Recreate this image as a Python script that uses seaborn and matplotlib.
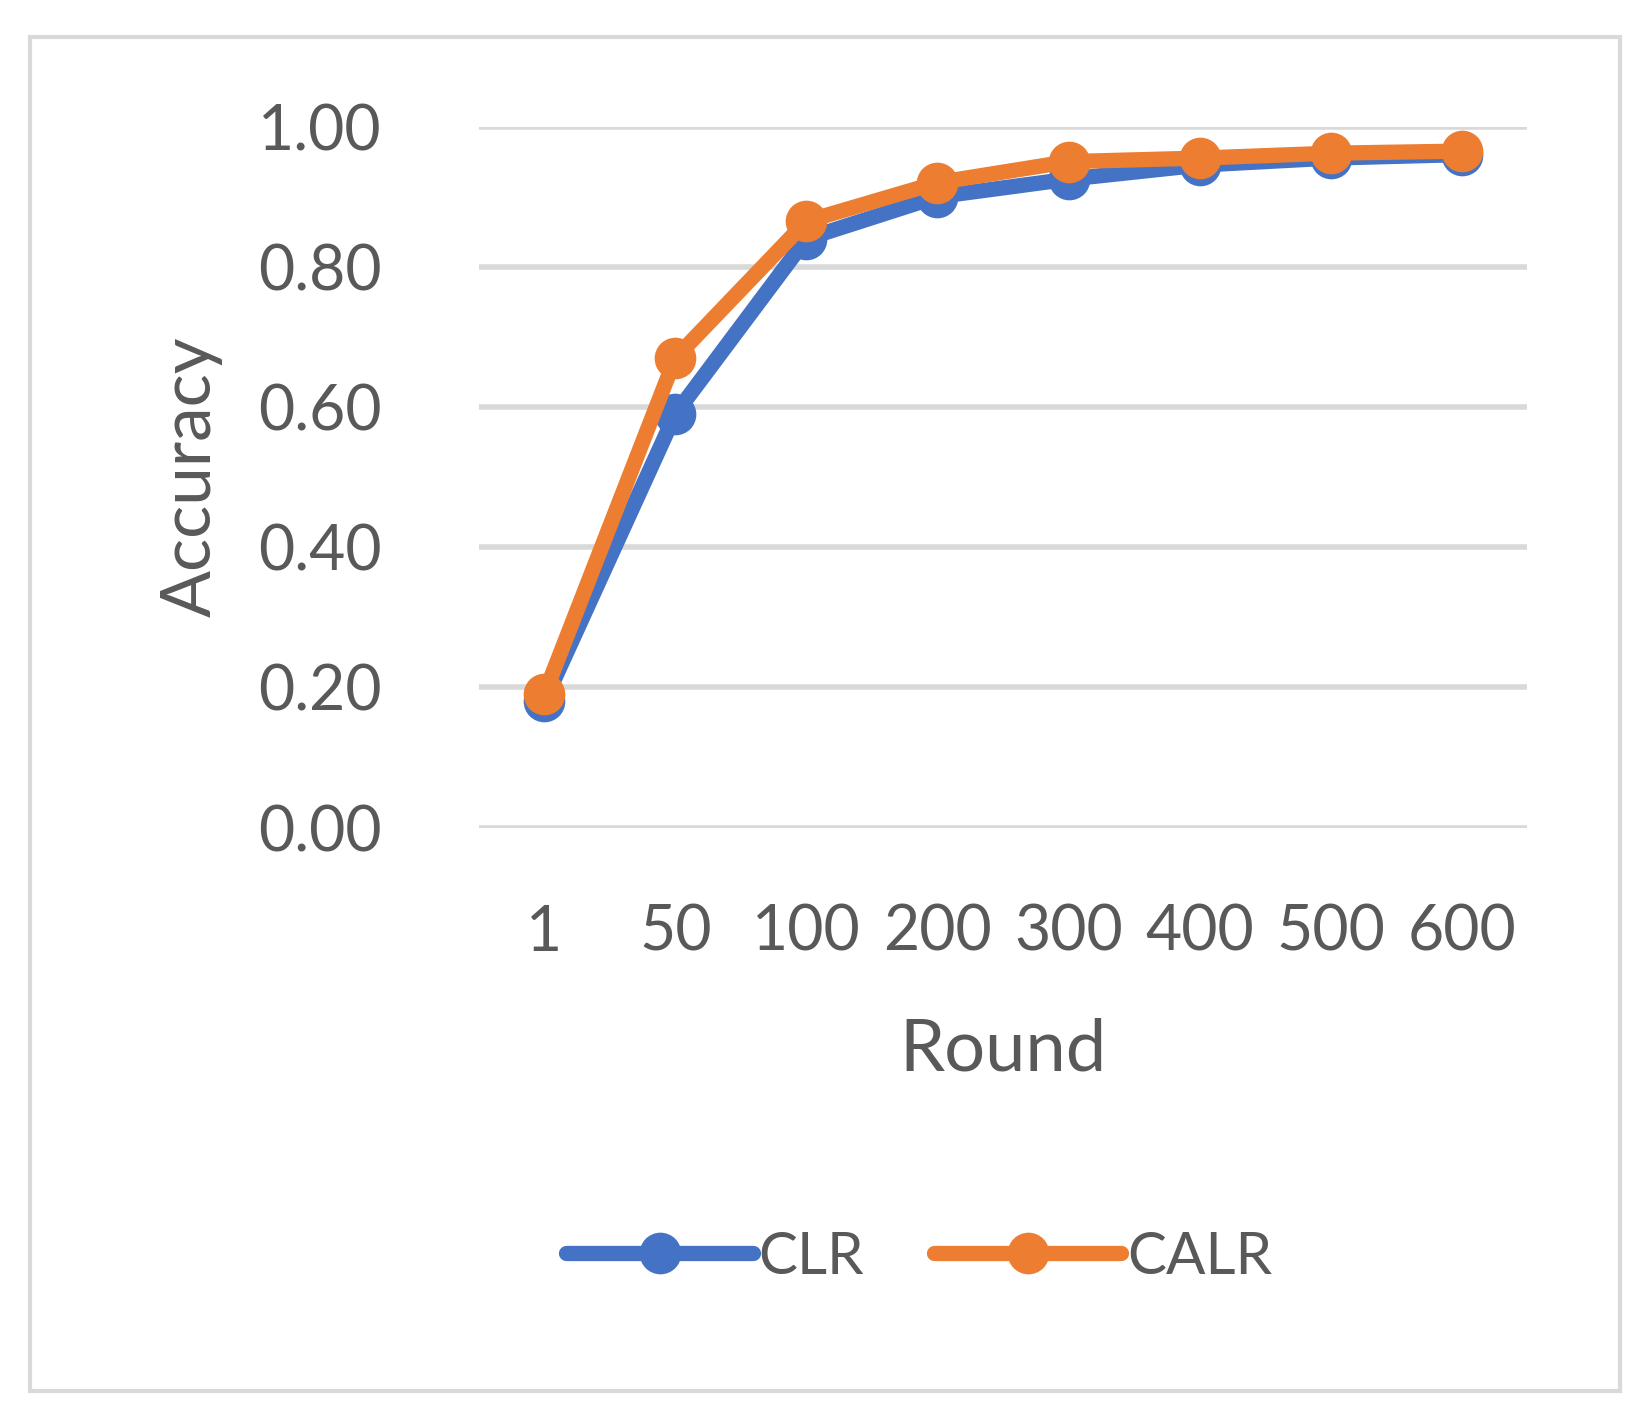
import pandas as pd
import matplotlib.pyplot as plt
import seaborn as sns
from matplotlib.patches import Rectangle

rounds = ["1", "50", "100", "200", "300", "400", "500", "600"]
clr = [0.18, 0.59, 0.84, 0.90, 0.925, 0.945, 0.955, 0.96]
calr = [0.19, 0.67, 0.865, 0.92, 0.95, 0.955, 0.962, 0.965]

df = pd.DataFrame({
    "pos": list(range(len(rounds))) * 2,
    "Accuracy": clr + calr,
    "series": ["CLR"] * len(rounds) + ["CALR"] * len(rounds),
})

sns.set_style("white")
plt.rcParams['font.family'] = ['Lato', 'DejaVu Sans']
fig = plt.figure(figsize=(16.51, 14.22), dpi=100)
ax = fig.add_axes([0.29, 0.418, 0.635, 0.493])
fig.patches.append(Rectangle((0.018, 0.022), 0.963, 0.952, transform=fig.transFigure,
                             fill=False, edgecolor="#d9d9d9", linewidth=3))

sns.lineplot(data=df, x="pos", y="Accuracy", hue="series",
             palette={"CLR": "#4472c4", "CALR": "#ed7d31"},
             marker="o", markersize=30, markeredgewidth=0, linewidth=11,
             ax=ax, clip_on=False)

ax.set_xlim(-0.5, 7.5)
ax.set_ylim(0, 1.0)
ax.set_yticks([0, 0.2, 0.4, 0.6, 0.8, 1.0])
ax.set_yticklabels([f"{v:.2f}" for v in [0, 0.2, 0.4, 0.6, 0.8, 1.0]])
ax.set_xticks(range(len(rounds)))
ax.set_xticklabels(rounds)
ax.tick_params(axis="both", labelsize=45, colors="#595959", length=0)
ax.tick_params(axis="x", pad=55)
ax.tick_params(axis="y", pad=70)
ax.yaxis.grid(True, color="#d9d9d9", linewidth=4)
ax.set_axisbelow(True)
for s in ax.spines.values():
    s.set_visible(False)
ax.set_xlabel("Round", fontsize=52, color="#595959", labelpad=40)
ax.set_ylabel("Accuracy", fontsize=50, color="#595959", labelpad=25)

leg = ax.legend(loc="upper center", bbox_to_anchor=(0.42, -0.5), ncol=2, frameon=False,
                fontsize=42, labelcolor="#595959", handlelength=3.2, columnspacing=1.2,
                handletextpad=0.1)
for h in leg.get_lines():
    h.set_linewidth(11)

fig.savefig("out.png", dpi=100)
